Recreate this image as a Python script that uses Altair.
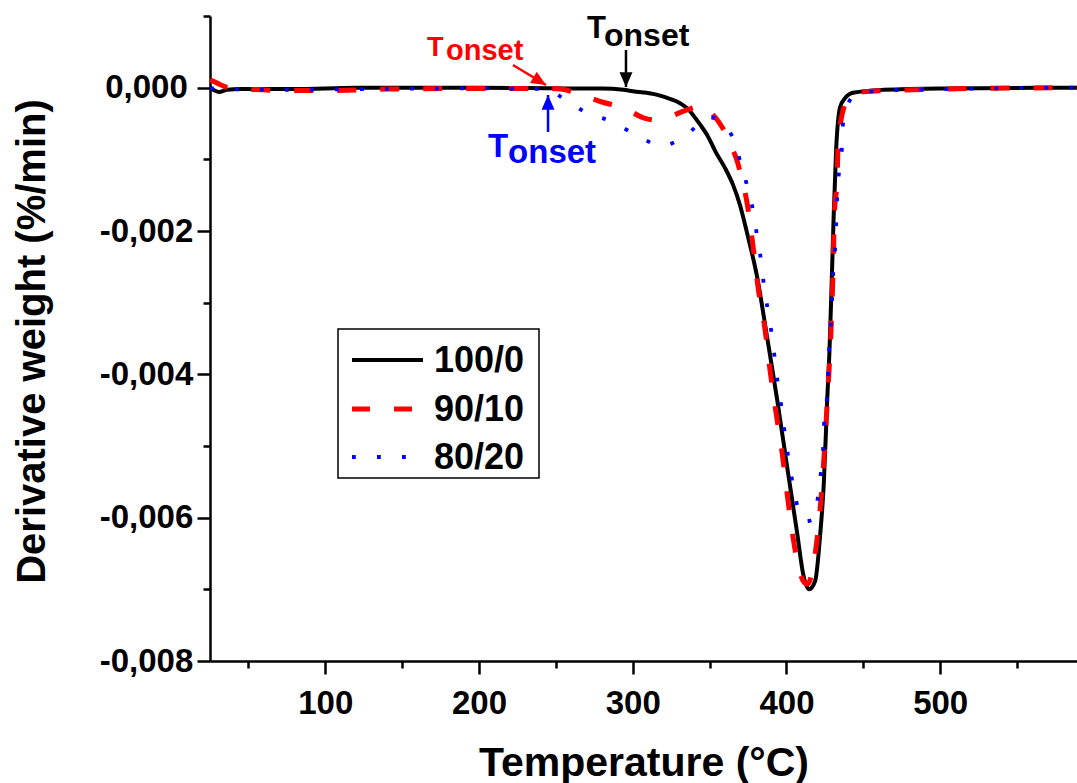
import altair as alt
import pandas as pd

# ---------------- data (derivative weight in units of 1e-3 %/min) ----------------
temp_100_0 = [25, 28, 31, 36, 45, 80, 120, 200, 260, 280, 294, 300, 316, 322, 331, 336,
              339.2, 344, 348.4, 354, 360, 365.3, 369.8, 374.4, 380.9, 387.4, 394, 400.5,
              407, 410.8, 414.7, 418.7, 422, 424.3, 426.5, 428, 429.4, 430.7, 432.3, 434.9,
              438, 443.4, 463, 500, 589]
dw_100_0 = [0.0, -0.04, -0.06, -0.03, -0.02, -0.02, 0.0, 0.0, -0.01, -0.01, -0.03, -0.05,
            -0.10, -0.14, -0.22, -0.30, -0.38, -0.52, -0.66, -0.90, -1.12, -1.36, -1.64,
            -2.03, -2.64, -3.48, -4.36, -5.30, -6.22, -6.78, -7.00, -6.88, -6.22, -5.52,
            -4.36, -3.66, -2.73, -1.80, -0.87, -0.27, -0.15, -0.07, -0.03, -0.01, 0.0]

temp_90_10 = [25, 30, 35, 40, 80, 100, 140, 200, 243, 253, 268, 280, 295, 307, 314.5, 322,
              334, 346, 351, 356, 360, 364.6, 367.9, 371, 374.4, 378.3, 381.5, 386.1,
              389.3, 393.3, 397.2, 400.4, 404.3, 410.8, 413.5, 418.7, 424, 427.2, 428.5,
              429.7, 430.5, 431.1, 433, 433.7, 439.6, 448, 500, 589]
dw_90_10 = [0.11, 0.06, 0.01, -0.01, -0.04, -0.04, -0.02, -0.01, -0.01, -0.02, -0.11, -0.20,
            -0.29, -0.42, -0.45, -0.42, -0.32, -0.25, -0.35, -0.48, -0.62, -0.84, -1.02,
            -1.28, -1.61, -2.22, -2.78, -3.38, -3.94, -4.55, -5.10, -5.66, -6.28, -6.88,
            -6.93, -6.50, -5.30, -4.13, -3.62, -2.97, -2.41, -1.80, -1.24, -0.73, -0.17,
            -0.06, -0.02, 0.0]

temp_80_20 = [25, 40, 80, 120, 200, 245, 254, 270, 286, 303, 319, 335, 349.6, 364.6, 369.8,
              374.4, 378.3, 380.9, 383.5, 385.4, 388, 390.6, 392.6, 394.6, 397.2, 399.1,
              401.7, 404.4, 408.3, 412.5, 416.8, 420.7, 422.6, 424, 424.6, 426.5, 427.2,
              427.9, 429.2, 429.8, 430.5, 431.8, 432.4, 433.1, 434.4, 436.3, 437, 444.8,
              461, 500, 589]
dw_80_20 = [-0.01, -0.02, -0.03, -0.02, -0.01, -0.02, -0.14, -0.35, -0.47, -0.67, -0.81,
            -0.66, -0.41, -0.67, -1.02, -1.37, -1.72, -2.07, -2.42, -2.77, -3.12, -3.47,
            -3.82, -4.17, -4.52, -4.87, -5.22, -5.57, -5.92, -6.05, -6.03, -5.68, -5.33,
            -4.98, -4.63, -4.28, -3.93, -3.58, -3.23, -2.88, -2.53, -2.18, -1.83, -1.48,
            -1.13, -0.77, -0.42, -0.10, -0.04, -0.02, 0.0]

series_names = ["100/0", "90/10", "80/20"]
series_colors = ["#000000", "#FF0000", "#0000FF"]

x_major_ticks = [100, 200, 300, 400, 500]
x_minor_ticks = [50, 150, 250, 350, 450, 550]
y_major_ticks = [0.0, -0.002, -0.004, -0.006, -0.008]
y_minor_ticks = [0.001, -0.001, -0.003, -0.005, -0.007]

# onset annotations: (T, dw) positions in data units
onset_text_T = [166.2, 270.3, 205.9]
onset_text_dw = [0.000442, 0.000693, -0.000967]
onset_sub_T = [178.5, 281.3, 218.9]
onset_sub_dw = [0.000386, 0.000581, -0.001051]
arrow_tail_T = [222.1, 295.6, 244.9]
arrow_tail_dw = [0.000316, 0.000526, -0.000619]
arrow_tip_T = [243.6, 295.6, 244.9]
arrow_tip_dw = [0.0000372, 0.0000094, -0.000102]

# ---------------- build ----------------
FONT = "Liberation Sans"

def series_df(ts, vs):
    return pd.DataFrame({"T": ts, "dw": [v * 1e-3 for v in vs]})

dfs = [series_df(temp_100_0, dw_100_0), series_df(temp_90_10, dw_90_10),
       series_df(temp_80_20, dw_80_20)]

xs = alt.Scale(domain=[25, 589], nice=False, zero=False)
ys = alt.Scale(domain=[-0.008, 0.001], nice=False, zero=False)

label_expr = "(datum.value < -1e-9 ? '-' : '') + replace(format(abs(datum.value), '.3f'), '.', ',')"

x_major = alt.Axis(values=x_major_ticks, orient="bottom", tickSize=13, tickWidth=2.5,
                   tickColor="black", domainWidth=2.5, domainColor="black", grid=False,
                   labelFont=FONT, labelFontSize=33, labelFontWeight="bold", labelColor="black",
                   labelPadding=39, labelBaseline="alphabetic", labelFlush=False,
                   labelOverlap=False, format="d",
                   title="Temperature (°C)", titleFont=FONT, titleFontSize=41,
                   titleFontWeight="bold", titleColor="black", titleY=114,
                   titleBaseline="alphabetic")
y_major = alt.Axis(values=y_major_ticks, orient="left", tickSize=13, tickWidth=2.5,
                   tickColor="black", domainWidth=2.5, domainColor="black", grid=False,
                   labelFont=FONT, labelFontSize=33, labelFontWeight="bold", labelColor="black",
                   labelAlign="center", labelPadding=51, labelBaseline="middle",
                   labelFlush=False, labelOverlap=False, labelExpr=label_expr,
                   title="Derivative weight (%/min)", titleFont=FONT, titleFontSize=40,
                   titleFontWeight="bold", titleColor="black", titleAngle=270,
                   titleX=-166, titleY=325, titleAlign="center", titleBaseline="alphabetic")
x_minor = alt.Axis(values=x_minor_ticks, orient="bottom", tickSize=7, tickWidth=2.5,
                   tickColor="black", domain=False, labels=False, grid=False, title=None)
y_minor = alt.Axis(values=y_minor_ticks, orient="left", tickSize=7, tickWidth=2.5,
                   tickColor="black", domain=False, labels=False, grid=False, title=None)

layers = []

# black line with main axes
layers.append(
    alt.Chart(dfs[0]).mark_line(color=series_colors[0], strokeWidth=4, interpolate="monotone")
    .encode(x=alt.X("T:Q", scale=xs, axis=x_major), y=alt.Y("dw:Q", scale=ys, axis=y_major))
)
# invisible layer carrying the minor ticks
layers.append(
    alt.Chart(dfs[0]).mark_line(strokeOpacity=0)
    .encode(x=alt.X("T:Q", scale=xs, axis=x_minor), y=alt.Y("dw:Q", scale=ys, axis=y_minor))
)
# red dashed
layers.append(
    alt.Chart(dfs[1]).mark_line(color=series_colors[1], strokeWidth=5, strokeDash=[19, 24],
                                interpolate="monotone")
    .encode(x=alt.X("T:Q", scale=xs, axis=None), y=alt.Y("dw:Q", scale=ys, axis=None))
)
# blue dotted
layers.append(
    alt.Chart(dfs[2]).mark_line(color=series_colors[2], strokeWidth=3.8, strokeDash=[3.8, 21.2],
                                interpolate="monotone")
    .encode(x=alt.X("T:Q", scale=xs, axis=None), y=alt.Y("dw:Q", scale=ys, axis=None))
)

# onset annotations
t_sizes = [27, 31, 33]
sub_sizes = [29, 32, 33]
ann_colors = ["#FF0000", "#000000", "#0000FF"]
head_angles = [121, 180, 0]
HEAD = "M0,0L0.75,1.7L-0.75,1.7Z"
for i in range(3):
    c = ann_colors[i]
    d_t = pd.DataFrame({"T": [onset_text_T[i]], "dw": [onset_text_dw[i]], "txt": ["T"]})
    d_s = pd.DataFrame({"T": [onset_sub_T[i]], "dw": [onset_sub_dw[i]], "txt": ["onset"]})
    layers.append(
        alt.Chart(d_t).mark_text(align="left", baseline="alphabetic", font=FONT,
                                 fontWeight="bold", fontSize=t_sizes[i], color=c)
        .encode(x=alt.X("T:Q", scale=xs, axis=None), y=alt.Y("dw:Q", scale=ys, axis=None),
                text="txt:N")
    )
    layers.append(
        alt.Chart(d_s).mark_text(align="left", baseline="alphabetic", font=FONT,
                                 fontWeight="bold", fontSize=sub_sizes[i], color=c)
        .encode(x=alt.X("T:Q", scale=xs, axis=None), y=alt.Y("dw:Q", scale=ys, axis=None),
                text="txt:N")
    )
    d_a = pd.DataFrame({"T": [arrow_tail_T[i]], "dw": [arrow_tail_dw[i]],
                        "T2": [arrow_tip_T[i]], "dw2": [arrow_tip_dw[i]]})
    layers.append(
        alt.Chart(d_a).mark_rule(color=c, strokeWidth=2.5)
        .encode(x=alt.X("T:Q", scale=xs, axis=None), y=alt.Y("dw:Q", scale=ys, axis=None),
                x2="T2:Q", y2="dw2:Q")
    )
    layers.append(
        alt.Chart(d_a).mark_point(shape=HEAD, filled=True, size=300, angle=head_angles[i],
                                  color=c, opacity=1, strokeWidth=0)
        .encode(x=alt.X("T2:Q", scale=xs, axis=None), y=alt.Y("dw2:Q", scale=ys, axis=None))
    )

# legend box (drawn in plot pixel space)
one = pd.DataFrame({"a": [0]})
layers.append(
    alt.Chart(one).mark_rect(fill="white", stroke="black", strokeWidth=1.5)
    .encode(x=alt.value(128), x2=alt.value(329), y=alt.value(313), y2=alt.value(462))
)
leg_styles = [dict(strokeWidth=4), dict(strokeWidth=5, strokeDash=[18, 24]),
              dict(strokeWidth=3.8, strokeDash=[3.8, 21.2])]
leg_rows = [344, 393, 441]
for i in range(3):
    layers.append(
        alt.Chart(one).mark_rule(color=series_colors[i], **leg_styles[i])
        .encode(x=alt.value(142), x2=alt.value(213), y=alt.value(leg_rows[i]))
    )
    layers.append(
        alt.Chart(pd.DataFrame({"lab": [series_names[i]]}))
        .mark_text(align="left", baseline="middle", font=FONT, fontWeight="bold", fontSize=36,
                   color="black", dy=1)
        .encode(x=alt.value(224), y=alt.value(leg_rows[i]), text="lab:N")
    )

chart = (
    alt.layer(*layers)
    .resolve_axis(x="independent", y="independent")
    .properties(width=867, height=645, autosize=alt.AutoSizeParams(type="none"),
                padding={"left": 210, "top": 16, "right": 0, "bottom": 122},
                background="white")
    .configure_view(stroke=None)
)

chart.save("out.html", embed_options={"renderer": "svg", "actions": False})
